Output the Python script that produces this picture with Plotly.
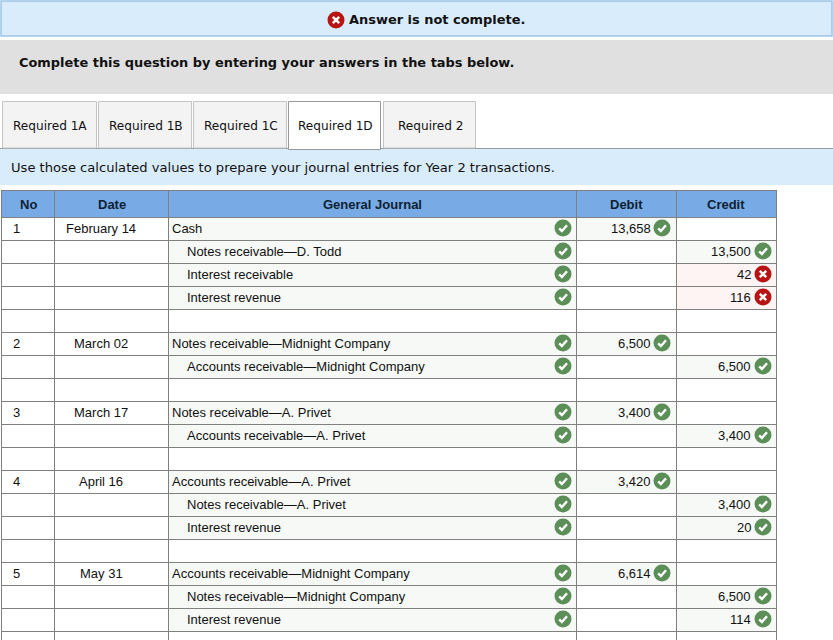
import plotly.graph_objects as go

W, H = 833, 640
tabs = ["Required 1A", "Required 1B", "Required 1C", "Required 1D", "Required 2"]
tab_edges = [(2, 96), (98, 191), (193, 286), (288, 380), (383, 475)]
active_tab = 3
headers = ["No", "Date", "General Journal", "Debit", "Credit"]

entry_no = ["1", "", "", "", "", "2", "", "", "3", "", "", "4", "", "", "", "5", "", "", ""]
dates = ["February 14", "", "", "", "", "March 02", "", "", "March 17", "", "", "April 16", "", "", "", "May 31", "", "", ""]
accounts = ["Cash", "Notes receivable—D. Todd", "Interest receivable", "Interest revenue", "",
            "Notes receivable—Midnight Company", "Accounts receivable—Midnight Company", "",
            "Notes receivable—A. Privet", "Accounts receivable—A. Privet", "",
            "Accounts receivable—A. Privet", "Notes receivable—A. Privet", "Interest revenue", "",
            "Accounts receivable—Midnight Company", "Notes receivable—Midnight Company", "Interest revenue", ""]
indented = [0, 1, 1, 1, 0, 0, 1, 0, 0, 1, 0, 0, 1, 1, 0, 0, 1, 1, 0]
debits = ["13,658", "", "", "", "", "6,500", "", "", "3,400", "", "", "3,420", "", "", "", "6,614", "", "", ""]
credits = ["", "13,500", "42", "116", "", "", "6,500", "", "", "3,400", "", "", "3,400", "20", "", "", "6,500", "114", ""]
credit_wrong = [0, 0, 1, 1, 0, 0, 0, 0, 0, 0, 0, 0, 0, 0, 0, 0, 0, 0, 0]

col_x = [1, 54, 168, 576, 676, 776]
head_top, head_bot, row_h = 190, 217, 23
SANS, WIDE = "Liberation Sans", "DejaVu Sans"
GREEN, RED = "#5b8f57", "#b81414"
OKFILL, BADFILL, LINE = "#f6f9f6", "#fdf4f3", "#808080"

shapes, notes = [], []


def rect(x0, y0, x1, y1, fill, line=None, lw=1):
    shapes.append(dict(type="rect", x0=x0, y0=y0, x1=x1, y1=y1, fillcolor=fill, layer="below",
                       line=dict(color=line or fill, width=lw if line else 0)))


def hline(x0, x1, y, color=LINE, lw=1):
    shapes.append(dict(type="line", x0=x0, x1=x1, y0=y, y1=y, layer="below", line=dict(color=color, width=lw)))


def vline(x, y0, y1, color=LINE, lw=1):
    shapes.append(dict(type="line", x0=x, x1=x, y0=y0, y1=y1, layer="below", line=dict(color=color, width=lw)))


def text(x, y, s, size=13, family=SANS, anchor="left", bold=False, color="#111111"):
    notes.append(dict(x=x, y=y, text=f"<b>{s}</b>" if bold else s, showarrow=False, xanchor=anchor, yanchor="middle",
                      borderpad=0, borderwidth=0, font=dict(family=family, size=size, color=color)))


ok_x, ok_y, bad_x, bad_y = [], [], [], []


def icon(x, y, ok=True):
    if ok:
        ok_x.append(x); ok_y.append(y)
        path = f"M {x-3.8} {y+0.3} L {x-1.1} {y+3} L {x+4} {y-2.8}"
    else:
        bad_x.append(x); bad_y.append(y)
        path = f"M {x-3.2} {y-3.2} L {x+3.2} {y+3.2} M {x+3.2} {y-3.2} L {x-3.2} {y+3.2}"
    shapes.append(dict(type="path", path=path, layer="above", line=dict(color="white", width=2.4)))


# banners
rect(1, 1, 832, 36, "#d9ecfb", "#9dc3e6", 1.5)
icon(336, 20, ok=False)
text(349, 19, "Answer is not complete.", 12.95, WIDE, bold=True)
rect(0, 40, W, 94, "#e0e0e0")
text(19, 62, "Complete this question by entering your answers in the tabs below.", 12.93, WIDE, bold=True)

# tabs
rect(0, 149, W, 185, "#d9ecfb")
hline(0, W, 148.5, "#999999", 1)
for i, (label, (a, b)) in enumerate(zip(tabs, tab_edges)):
    on = i == active_tab
    rect(a + 0.5, 101.5, b + 0.5, 149.5 if on else 148, "#ffffff" if on else "#f3f3f3", "#999999" if on else "#c4c4c4", 1)
    text((a + b) / 2 + 1, 125.5, label, 12.1, WIDE, anchor="center")
text(11, 167.5, "Use those calculated values to prepare your journal entries for Year 2 transactions.", 13.1, WIDE)

# table header
rect(col_x[0], head_top, col_x[-1], head_bot, "#78abe5")
header_x = [28, 112, 372.5, 626, 726]
for x, h in zip(header_x, headers):
    text(x, (head_top + head_bot) / 2 + 0.5, h, 13, SANS, anchor="center", bold=True, color="#0d1f33")

# body
for r in range(len(accounts)):
    top = head_bot + r * row_h
    mid = top + row_h / 2 - 0.5
    if accounts[r]:
        rect(col_x[2], top, col_x[3], top + row_h, OKFILL)
        text(col_x[2] + 4 + 15 * indented[r], mid, accounts[r])
        icon(col_x[3] - 13, mid)
    if debits[r]:
        rect(col_x[3], top, col_x[4], top + row_h, OKFILL)
        text(col_x[4] - 25, mid, debits[r], anchor="right")
        icon(col_x[4] - 14, mid)
    if credits[r]:
        bad = credit_wrong[r]
        rect(col_x[4], top, col_x[5], top + row_h, BADFILL if bad else OKFILL)
        text(col_x[5] - 25, mid, credits[r], anchor="right")
        icon(col_x[5] - 13, mid, ok=not bad)
    if entry_no[r]:
        text(col_x[0] + 12, mid, entry_no[r])
    if dates[r]:
        text(101, mid, dates[r], anchor="center")

for y in range(head_top, H + 1, 1):
    if y == head_top or (y - head_bot) % row_h == 0 and y >= head_bot:
        hline(col_x[0], col_x[-1], y + 0.5)
for x in col_x:
    vline(x + 0.5, head_top, H)

fig = go.Figure()
fig.add_trace(go.Scatter(x=ok_x, y=ok_y, mode="markers", hoverinfo="skip",
                         marker=dict(symbol="circle", size=17, color=GREEN, line=dict(width=0))))
fig.add_trace(go.Scatter(x=bad_x, y=bad_y, mode="markers", hoverinfo="skip",
                         marker=dict(symbol="circle", size=17, color=RED, line=dict(width=0))))
fig.update_layout(width=W, height=H, margin=dict(l=0, r=0, t=0, b=0), showlegend=False,
                  paper_bgcolor="white", plot_bgcolor="white", shapes=shapes, annotations=notes,
                  xaxis=dict(range=[0, W], visible=False, fixedrange=True),
                  yaxis=dict(range=[H, 0], visible=False, fixedrange=True))
fig.write_html("out.html", config=dict(displayModeBar=False),
               post_script="document.body.style.margin='0';document.body.style.overflow='hidden';")
